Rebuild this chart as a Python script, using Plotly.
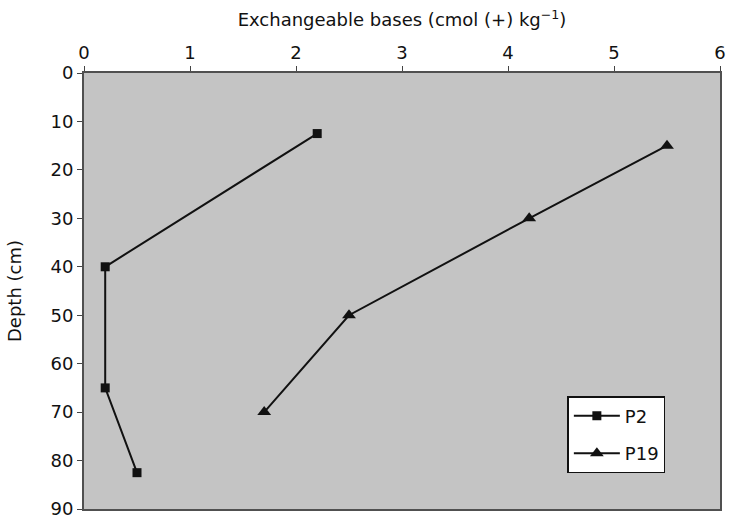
import plotly.graph_objects as go

# Data
p2_bases = [2.2, 0.2, 0.2, 0.5]
p2_depth = [12.5, 40, 65, 82.5]
p19_bases = [5.5, 4.2, 2.5, 1.7]
p19_depth = [15, 30, 50, 70]

x_ticks = [0, 1, 2, 3, 4, 5, 6]
y_ticks = [0, 10, 20, 30, 40, 50, 60, 70, 80, 90]

FONT = "DejaVu Sans, Arial, sans-serif"
FS = 18

fig = go.Figure()
fig.add_trace(go.Scatter(
    x=p2_bases, y=p2_depth, name="P2", mode="lines+markers",
    line=dict(color="#111111", width=2),
    marker=dict(symbol="square", size=9, color="#111111"),
    legendgroup="a",
))
fig.add_trace(go.Scatter(
    x=p19_bases, y=p19_depth, name="P19", mode="lines+markers",
    line=dict(color="#111111", width=2),
    marker=dict(symbol="triangle-up", size=12, color="#111111"),
    legendgroup="b",
))

fig.update_layout(
    width=732, height=525,
    margin=dict(l=83.5, r=6, t=72.7, b=12),
    paper_bgcolor="white",
    plot_bgcolor="#c4c4c4",
    font=dict(family=FONT, size=FS, color="#111111"),
    showlegend=True,
    legend=dict(
        x=0.760, y=0.259, xanchor="left", yanchor="top",
        bgcolor="white", bordercolor="#111111", borderwidth=1.5,
        font=dict(size=FS), tracegroupgap=11, traceorder="grouped",
        itemwidth=46,
    ),
    xaxis=dict(
        side="top", range=[0, 6], tickvals=x_ticks,
        ticks="outside", ticklen=5, tickcolor="#444444",
        showline=True, linecolor="#505050", linewidth=2, mirror=True,
        showgrid=False, zeroline=False,
        title=dict(text="Exchangeable bases (cmol (+) kg<sup>−1</sup>)", standoff=10,
                   font=dict(size=FS)),
        tickfont=dict(size=FS),
    ),
    yaxis=dict(
        range=[90, 0], tickvals=y_ticks,
        ticks="outside", ticklen=5, tickcolor="#444444",
        showline=True, linecolor="#505050", linewidth=2, mirror=True,
        showgrid=False, zeroline=False,
        title=dict(text="Depth (cm)", standoff=24, font=dict(size=FS)),
        tickfont=dict(size=FS),
    ),
)

fig.write_html("out.html")
